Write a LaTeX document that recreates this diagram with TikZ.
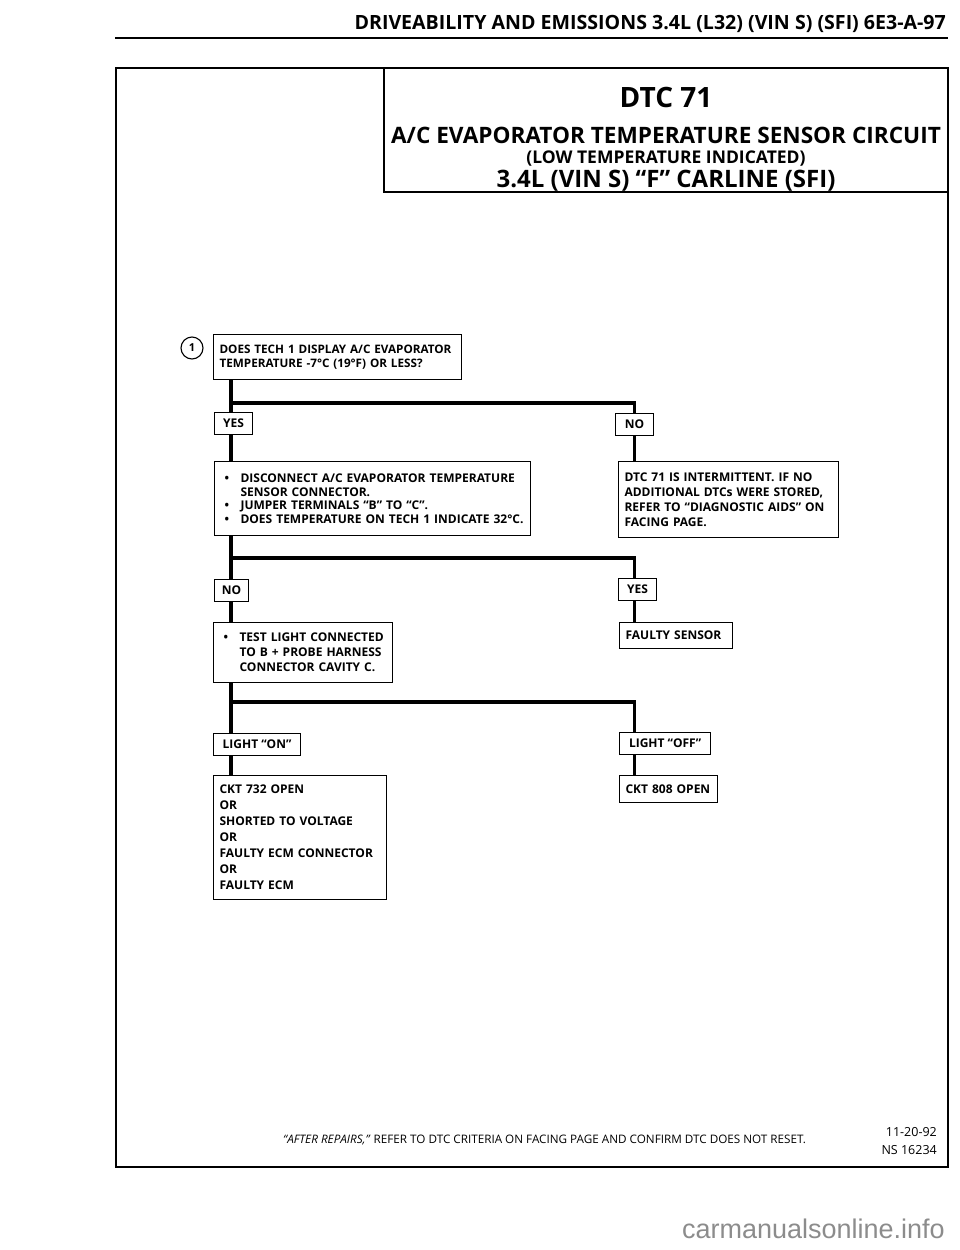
\documentclass[tikz,border=0pt]{standalone}
\usepackage{fontspec}
\setmainfont{Open Sans}
\newfontfamily\markfont{Liberation Sans}
\usetikzlibrary{positioning}

\begin{document}
\begin{tikzpicture}[x=1pt, y=-1pt,
    box/.style={draw, line width=1.1pt, anchor=north west, align=left, inner xsep=6pt, inner ysep=0pt, font={\bfseries\fontsize{12}{15}\selectfont\hyphenpenalty=10000\relax}},
    tag/.style={draw, line width=1.1pt, anchor=north west, inner sep=0pt, minimum height=22pt, font=\bfseries\fontsize{12}{12}\selectfont},
    flow/.style={line width=3.6pt},
    heading/.style={inner sep=0pt, anchor=base, font=\bfseries}]
                        \useasboundingbox (0,0) rectangle (960,1250);
                        % page header
                        \node[heading, anchor=base east, font=\bfseries\fontsize{19.6}{19.6}\selectfont] (head) at (946,29) {DRIVEABILITY AND EMISSIONS 3.4L (L32) (VIN S) (SFI) 6E3-A-97};
                        \draw[line width=1.5pt] (115,38) -- (948,38);
                        \draw[line width=2pt] (116,68) rectangle (948,1167);
                        \draw[line width=1.2pt] (384,68) rectangle (948,192);
                        % title
                        \node[heading, font=\bfseries\fontsize{28}{28}\selectfont] (dtc) at (666,107) {DTC 71};
                        \node[heading, font=\bfseries\fontsize{22.6}{22.6}\selectfont] (t1) at (666,143) {A/C EVAPORATOR TEMPERATURE SENSOR CIRCUIT};
                        \node[heading, font=\bfseries\fontsize{17.5}{17.5}\selectfont] (t2) at (666,163) {(LOW TEMPERATURE INDICATED)};
                        \node[heading, font=\bfseries\fontsize{24}{24}\selectfont] (t3) at (666,187) {3.4L (VIN S) “F” CARLINE (SFI)};
                        % step 1
                        \node[draw, circle, line width=1.1pt, minimum size=22pt, inner sep=0pt, font=\bfseries\fontsize{11}{11}\selectfont] (n1) at (192,348) {1};
                        \node[box, text width=236pt, minimum height=45pt, font=\bfseries\fontsize{11.7}{14.5}\selectfont] (q1) at (213,334) {DOES TECH 1 DISPLAY A/C EVAPORATOR\\TEMPERATURE -7°C (19°F) OR LESS?};
                        \node[tag, minimum width=38pt] (yes1) at (214,412) {YES};
                        \node[tag, minimum width=38pt] (no1) at (615,413) {NO};
                        \node[box, text width=304pt, minimum height=74pt, font=\bfseries\fontsize{12}{13.6}\selectfont] (act1) at (214,461) {\makebox[20pt][l]{\hspace{4pt}•}DISCONNECT A/C EVAPORATOR TEMPERATURE\\\hspace*{20pt}SENSOR CONNECTOR.\\\makebox[20pt][l]{\hspace{4pt}•}JUMPER TERMINALS “B” TO “C”.\\\makebox[20pt][l]{\hspace{4pt}•}DOES TEMPERATURE ON TECH 1 INDICATE 32°C.};
                        \node[box, text width=208pt, minimum height=76pt] (res1) at (618,461) {DTC 71 IS INTERMITTENT.  IF NO\\ADDITIONAL DTCs WERE STORED,\\REFER TO “DIAGNOSTIC AIDS” ON\\FACING PAGE.};
                        % step 2
                        \node[tag, minimum width=34pt] (no2) at (214,579) {NO};
                        \node[tag, minimum width=38pt] (yes2) at (618,578) {YES};
                        \node[box, text width=167pt, minimum height=60pt] (act2) at (213,622) {\makebox[20pt][l]{\hspace{4pt}•}TEST LIGHT CONNECTED\\\hspace*{20pt}TO B + PROBE HARNESS\\\hspace*{20pt}CONNECTOR CAVITY C.};
                        \node[box, text width=101pt, minimum height=26pt] (res2) at (619,622) {FAULTY SENSOR};
                        % step 3
                        \node[tag, minimum width=87pt] (on3) at (213,733) {LIGHT “ON”};
                        \node[tag, minimum width=91pt] (off3) at (619,732) {LIGHT “OFF”};
                        \node[box, text width=161pt, minimum height=124pt, font=\bfseries\fontsize{12}{16}\selectfont] (res3) at (213,775) {CKT 732 OPEN\\OR\\SHORTED TO VOLTAGE\\OR\\FAULTY ECM CONNECTOR\\OR\\FAULTY ECM};
                        \node[box, text width=86pt, minimum height=27pt] (res4) at (619,775) {CKT 808 OPEN};
                        % junctions
                        \coordinate (j1) at (231,403);
                        \coordinate (j2) at (231,558);
                        \coordinate (j3) at (231,702);
                        \draw[flow]
                        (q1.south -| j1) -- (yes1.north -| j1)
                        (j1) -| (no1.north)
                        (yes1.south -| j1) -- (act1.north -| j1)
                        (no1.south) -- (res1.north -| no1)
                        (act1.south -| j2) -- (no2.north -| j2)
                        (j2) -| (yes2.north -| no1)
                        (no2.south -| j2) -- (act2.north -| j2)
                        (yes2.south -| no1) -- (res2.north -| no1)
                        (act2.south -| j3) -- (on3.north -| j3)
                        (j3) -| (off3.north -| no1)
                        (on3.south -| j3) -- (res3.north -| j3)
                        (off3.south -| no1) -- (res4.north -| no1);
                        % footer
                        \node[heading, anchor=base west, font=\fontsize{11.7}{11.7}\selectfont] (foot) at (283,1143) {\textit{“AFTER REPAIRS,”} REFER TO DTC CRITERIA ON FACING PAGE AND CONFIRM DTC DOES NOT RESET.};
                        \node[heading, anchor=base east, font=\fontsize{12.5}{12.5}\selectfont] (date) at (937,1136) {11-20-92};
                        \node[heading, anchor=base east, font=\fontsize{12.5}{12.5}\selectfont] (ns) at (937,1154) {NS 16234};
                        \node[inner sep=0pt, anchor=base east, text=black!45, font=\markfont\fontsize{27}{27}\selectfont] (mark) at (945,1238) {carmanualsonline.info};
                    \end{tikzpicture}
\end{document}
